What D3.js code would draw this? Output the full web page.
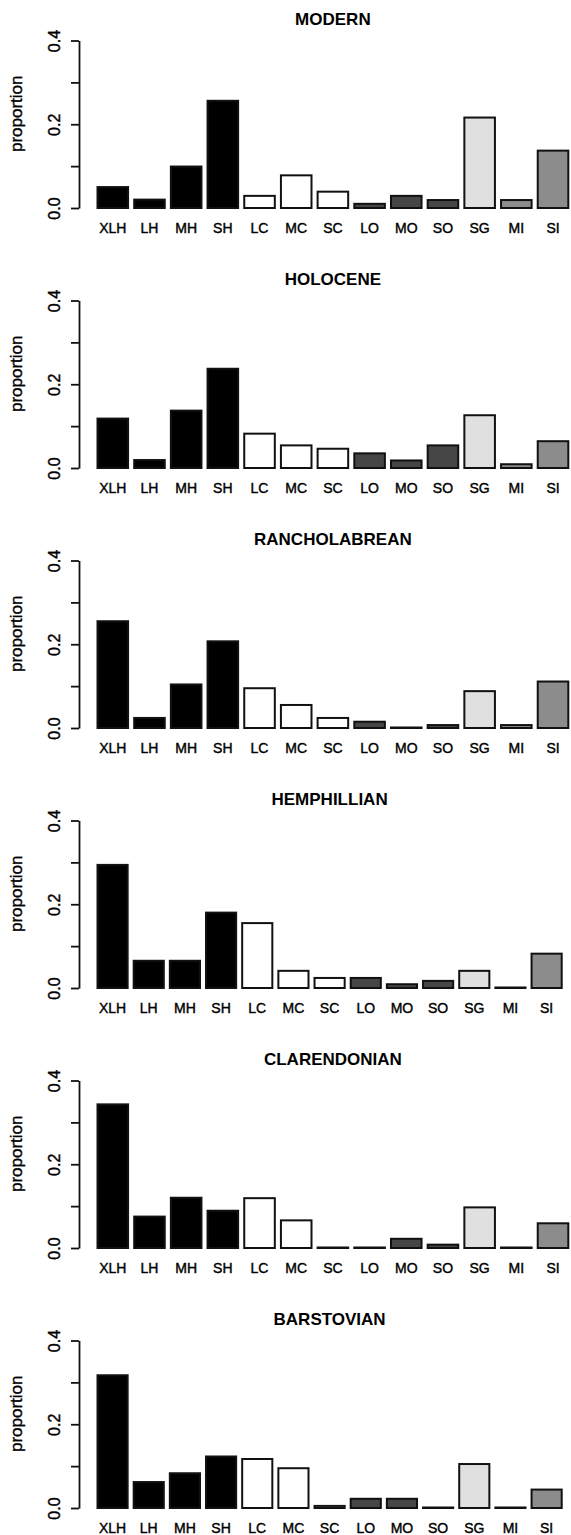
<!DOCTYPE html>
<html>
<head>
<meta charset="utf-8">
<script src="https://cdn.jsdelivr.net/npm/d3@7"></script>
<style>
body { margin: 0; background: #fff; }
text { font-family: "Liberation Sans", Arial, Helvetica, sans-serif; fill: #000; }
.heavy { stroke: #000; stroke-width: 0.4px; }
</style>
</head>
<body>
<script>
// bar categories, same order in every panel
categories = ["XLH", "LH", "MH", "SH", "LC", "MC", "SC", "LO", "MO", "SO", "SG", "MI", "SI"];
periods = ["MODERN", "HOLOCENE", "RANCHOLABREAN", "HEMPHILLIAN", "CLARENDONIAN", "BARSTOVIAN"];

// proportions
modern        = [0.050, 0.020, 0.099, 0.256, 0.029, 0.078, 0.039, 0.010, 0.029, 0.019, 0.216, 0.019, 0.137];
holocene      = [0.118, 0.019, 0.137, 0.237, 0.082, 0.054, 0.046, 0.035, 0.018, 0.054, 0.126, 0.009, 0.064];
rancholabrean = [0.255, 0.024, 0.104, 0.207, 0.095, 0.055, 0.024, 0.015, 0.001, 0.007, 0.088, 0.007, 0.111];
hemphillian   = [0.294, 0.065, 0.065, 0.180, 0.155, 0.041, 0.024, 0.024, 0.009, 0.017, 0.041, 0.000, 0.082];
clarendonian  = [0.343, 0.075, 0.120, 0.089, 0.119, 0.066, 0.000, 0.000, 0.022, 0.008, 0.097, 0.000, 0.059];
barstovian    = [0.317, 0.062, 0.083, 0.123, 0.117, 0.095, 0.005, 0.022, 0.022, 0.000, 0.105, 0.000, 0.044];
periodValues = [modern, holocene, rancholabrean, hemphillian, clarendonian, barstovian];

yTicks = [0, 0.1, 0.2, 0.3, 0.4];
yLabels = ["0.0", "", "0.2", "", "0.4"];

// fill per category
barFill = ["#000", "#000", "#000", "#000", "#fff", "#fff", "#fff",
           "#464646", "#464646", "#464646", "#e0e0e0", "#8c8c8c", "#8c8c8c"];

svgWidth = 571;
svgHeight = 1535;
svg = d3.select("body").append("svg").attr("width", svgWidth).attr("height", svgHeight);

axisX = 79;
plotLeft = 97.5;
plotRight = [568.3, 568.3, 568.3, 561.7, 568.3, 561.7];
firstBase = 208;
panelStep = 260;
axisLen = 167.5;

periods.forEach(function (title, i) {
  var base = firstBase + i * panelStep;
  var y = d3.scaleLinear().domain([0, 0.4]).range([base, base - axisLen]);
  var x = d3.scaleBand().domain(categories)
    .range([plotLeft, plotRight[i]])
    .paddingInner(1 / 6).paddingOuter(0);
  var g = svg.append("g");

  // y axis, labels turned along the axis
  var ax = g.append("g")
    .attr("transform", "translate(" + axisX + ",0)")
    .call(d3.axisLeft(y).tickValues(yTicks).tickSize(8).tickSizeOuter(0)
      .tickFormat(function (d, k) { return yLabels[k]; }));
  ax.select(".domain").attr("stroke", "#111").attr("stroke-width", 1.8);
  ax.selectAll(".tick line").attr("stroke", "#111").attr("stroke-width", 1.8);
  ax.selectAll(".tick text")
    .attr("class", "heavy")
    .attr("x", null).attr("dy", null)
    .attr("text-anchor", "middle")
    .attr("transform", "translate(-19,0) rotate(-90)")
    .style("font-family", "Liberation Sans, Arial, sans-serif")
    .style("font-size", "16px")
    .attr("fill", "#000");

  g.append("text")
    .attr("class", "heavy")
    .attr("transform", "translate(22," + y(0.225) + ") rotate(-90)")
    .attr("text-anchor", "middle")
    .style("font-size", "17px")
    .text("proportion");

  g.append("text")
    .attr("x", (plotLeft + plotRight[i]) / 2)
    .attr("y", y(0.4) - 15.5)
    .attr("text-anchor", "middle")
    .style("font-size", "17px")
    .style("font-weight", "bold")
    .text(title);

  var vals = periodValues[i];
  g.selectAll("rect.bar")
    .data(categories)
    .enter().append("rect")
    .attr("class", "bar")
    .attr("x", function (c) { return x(c); })
    .attr("y", function (c, k) { return Math.min(y(vals[k]), base - 0.5); })
    .attr("width", x.bandwidth())
    .attr("height", function (c, k) { return Math.max(base - y(vals[k]), 0.5); })
    .attr("fill", function (c, k) { return barFill[k]; })
    .attr("stroke", "#111")
    .attr("stroke-width", 2);

  g.selectAll("text.cat")
    .data(categories)
    .enter().append("text")
    .attr("class", "cat heavy")
    .attr("x", function (c) { return x(c) + x.bandwidth() / 2; })
    .attr("y", base + 24.5)
    .attr("text-anchor", "middle")
    .style("font-size", "14px")
    .text(function (c) { return c; });
});
</script>
</body>
</html>
